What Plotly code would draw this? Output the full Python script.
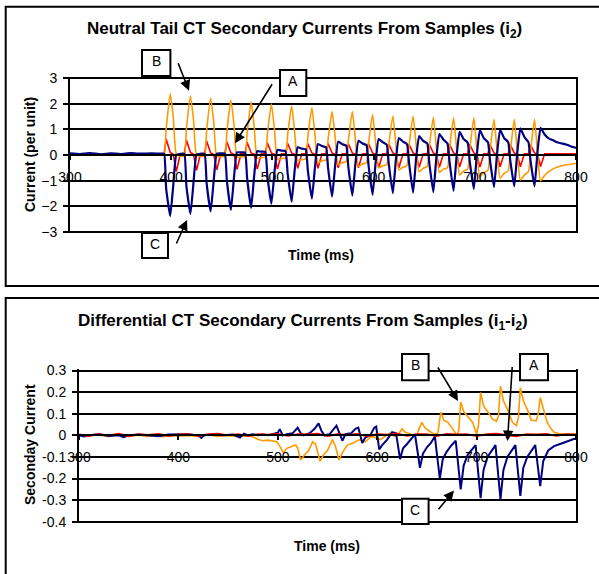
import plotly.graph_objects as go

# ---------------- Top chart data (Neutral tail CT secondary currents) ----------------
t_top = [300, 310, 320, 330, 340, 350, 360, 370, 380, 390,
         393, 395, 399, 402, 405, 409,
         413, 415, 419, 422, 425, 429,
         433, 435, 439, 442, 445, 449,
         453, 455, 459, 462, 465, 469,
         473, 475, 479, 482, 485, 489,
         493, 495, 499, 502, 505, 509,
         513, 515, 519, 522, 525, 529,
         533, 535, 539, 542, 545, 549,
         553, 555, 559, 562, 565, 569,
         573, 575, 579, 582, 585, 589,
         593, 595, 599, 602, 605, 609,
         613, 615, 619, 622, 625, 629,
         633, 635, 639, 642, 645, 649,
         653, 655, 659, 662, 665, 669,
         673, 675, 679, 682, 685, 689,
         693, 695, 699, 702, 705, 709,
         713, 715, 719, 722, 725, 729,
         733, 735, 739, 742, 745, 749,
         753, 755, 759, 762, 765, 769,
         773, 777, 781, 786, 791, 796, 800]

top_B_orange = [0.02, 0.0, 0.03, 0.0, 0.02, 0.0, 0.03, 0.01, 0.02, 0.0,
                0.0, 1.0, 2.38, 1.5, 0.05, -0.05,
                -0.03, 1.0, 2.30, 1.4, 0.0, -0.05,
                -0.04, 0.95, 2.21, 1.3, -0.05, -0.06,
                -0.05, 0.9, 2.14, 1.2, -0.08, -0.07,
                -0.06, 0.85, 2.06, 1.1, -0.12, -0.1,
                -0.08, 0.8, 1.99, 1.0, -0.18, -0.14,
                -0.12, 0.75, 1.91, 0.9, -0.22, -0.18,
                -0.15, 0.7, 1.84, 0.8, -0.3, -0.22,
                -0.2, 0.6, 1.69, 0.7, -0.38, -0.3,
                -0.25, 0.55, 1.69, 0.6, -0.45, -0.35,
                -0.3, 0.45, 1.58, 0.5, -0.5, -0.42,
                -0.38, 0.4, 1.52, 0.45, -0.58, -0.48,
                -0.42, 0.35, 1.52, 0.4, -0.65, -0.52,
                -0.45, 0.3, 1.47, 0.3, -0.68, -0.55,
                -0.5, 0.25, 1.45, 0.25, -0.78, -0.62,
                -0.55, 0.2, 1.45, 0.2, -0.85, -0.68,
                -0.6, 0.15, 1.39, 0.15, -0.9, -0.72,
                -0.62, 0.1, 1.39, 0.1, -0.97, -0.78,
                -0.65, 0.1, 1.39, 0.05, -1.0, -0.8,
                -0.65, -0.55, -0.48, -0.42, -0.38, -0.35, -0.33]

top_C_blue = [0.06, 0.04, 0.07, 0.03, 0.06, 0.04, 0.07, 0.05, 0.06, 0.05,
              0.05, -1.3, -2.38, -1.2, 0.0, 0.05,
              0.05, -1.2, -2.30, -1.1, 0.02, 0.05,
              0.05, -1.1, -2.20, -1.0, 0.05, 0.06,
              0.06, -1.0, -2.14, -0.9, 0.1, 0.1,
              0.1, -0.9, -2.06, -0.8, 0.15, 0.13,
              0.12, -0.8, -1.90, -0.7, 0.2, 0.17,
              0.15, -0.7, -1.82, -0.6, 0.3, 0.25,
              0.22, -0.6, -1.70, -0.5, 0.43, 0.35,
              0.3, -0.5, -1.62, -0.4, 0.52, 0.42,
              0.36, -0.45, -1.58, -0.35, 0.55, 0.45,
              0.38, -0.4, -1.55, -0.3, 0.62, 0.5,
              0.4, -0.35, -1.49, -0.2, 0.66, 0.52,
              0.42, -0.3, -1.47, -0.15, 0.74, 0.55,
              0.45, -0.3, -1.45, -0.1, 0.82, 0.6,
              0.45, -0.25, -1.40, -0.05, 0.9, 0.62,
              0.48, -0.25, -1.32, 0.0, 0.97, 0.65,
              0.5, -0.2, -1.25, 0.05, 0.98, 0.66,
              0.5, -0.2, -1.22, 0.1, 1.04, 0.7,
              0.5, -0.2, -1.22, 0.15, 1.06, 0.8,
              0.65, 0.58, 0.5, 0.45, 0.4, 0.32, 0.28]

top_A_red = [0.03, 0.02, 0.03, 0.03, 0.02, 0.03, 0.03, 0.02, 0.03, 0.03,
             0.05, 0.62, 0.1, 0.03, -0.65, 0.05,
             0.05, 0.58, 0.1, 0.03, -0.6, 0.05,
             0.05, 0.55, 0.08, 0.03, -0.58, 0.05,
             0.05, 0.52, 0.08, 0.03, -0.56, 0.05,
             0.05, 0.5, 0.08, 0.03, -0.55, 0.05,
             0.05, 0.48, 0.08, 0.03, -0.55, 0.05,
             0.05, 0.46, 0.08, 0.03, -0.52, 0.05,
             0.05, 0.45, 0.08, 0.03, -0.52, 0.05,
             0.05, 0.45, 0.08, 0.03, -0.5, 0.05,
             0.05, 0.44, 0.08, 0.03, -0.5, 0.05,
             0.05, 0.44, 0.08, 0.03, -0.5, 0.05,
             0.05, 0.43, 0.08, 0.03, -0.5, 0.05,
             0.05, 0.42, 0.08, 0.03, -0.48, 0.05,
             0.05, 0.42, 0.08, 0.03, -0.48, 0.05,
             0.05, 0.42, 0.08, 0.03, -0.47, 0.05,
             0.05, 0.42, 0.08, 0.03, -0.47, 0.05,
             0.05, 0.4, 0.08, 0.03, -0.46, 0.05,
             0.05, 0.4, 0.08, 0.03, -0.46, 0.05,
             0.05, 0.4, 0.08, 0.03, -0.45, 0.05,
             0.05, 0.05, 0.05, 0.05, 0.05, 0.05, 0.05]

# ---------------- Bottom chart data (Differential CT secondary currents) ----------------
t_bot_blue = [300, 305, 310, 320, 330, 340, 345, 350, 360, 370, 380, 390, 400, 410, 420, 423, 426,
              435, 445, 455, 462, 466, 470, 475, 480, 485, 490, 495,
              500, 502, 505, 510, 515, 520, 523, 526, 532, 537, 541, 544, 547, 552, 556, 559,
              562, 565, 568, 574, 578, 581, 585, 588, 593, 597, 599, 602, 605, 610, 615, 619,
              623, 626, 630, 634, 638,
              643, 646, 650, 654, 658,
              663, 666, 670, 674, 679,
              684, 687, 691, 695, 699,
              704, 707, 711, 715, 719,
              724, 727, 731, 735, 739,
              744, 747, 751, 755, 759,
              764, 767, 772, 778, 784, 789, 793, 797, 800]
bot_C_blue = [0.0, -0.005, 0.0, 0.005, -0.003, 0.0, -0.008, 0.0, 0.004, 0.0, -0.004, 0.004, 0.005, 0.005, 0.0, -0.012, 0.0,
              0.004, 0.0, 0.004, -0.01, 0.008, 0.0, 0.005, 0.0, 0.004, 0.0, 0.005,
              0.012, 0.028, 0.0, 0.006, 0.01, 0.035, 0.01, 0.0, 0.01, 0.03, 0.055, 0.02, 0.0, 0.005, 0.03, 0.045,
              0.01, -0.025, 0.005, 0.01, 0.03, 0.036, -0.035, -0.01, 0.0, 0.035, 0.04, -0.065, -0.045, -0.02, 0.015, 0.01,
              -0.11, -0.06, -0.04, -0.02, 0.005,
              -0.15, -0.085, -0.055, -0.035, -0.005,
              -0.2, -0.11, -0.075, -0.05, -0.025,
              -0.25, -0.14, -0.09, -0.065, -0.045,
              -0.29, -0.16, -0.1, -0.07, -0.045,
              -0.296, -0.16, -0.1, -0.07, -0.045,
              -0.28, -0.15, -0.1, -0.07, -0.045,
              -0.235, -0.12, -0.07, -0.05, -0.04, -0.03, -0.025, -0.018, -0.015]

t_bot_orange = [300, 308, 315, 322, 330, 338, 345, 352, 360, 368, 376, 384, 392, 400, 410, 420, 430, 440, 450, 460,
                468, 474, 480, 485, 490, 495, 499, 502, 505.5, 509, 514, 518, 520, 523, 527, 531, 535, 538,
                542.5, 546, 550, 555, 558, 561.5, 565, 570, 576, 582, 588, 594, 598, 603, 608, 613, 618,
                622, 625, 628, 634, 640, 642, 645, 648, 653, 657, 661, 664, 667, 671, 676, 680,
                682, 684, 687, 691, 696, 700, 702, 704, 707, 711, 716, 720, 722, 724, 727, 731, 736, 740,
                742, 744, 747, 751, 755, 760, 762, 764, 767, 771, 775, 778, 783, 790, 800]
bot_B_orange = [0.0, -0.005, 0.005, 0.0, -0.006, 0.003, 0.0, -0.004, 0.002, -0.005, 0.0, -0.006, 0.0, -0.004, 0.0, -0.005, 0.002, -0.005, 0.0, -0.006,
                -0.003, -0.005, -0.018, -0.025, -0.022, -0.025, -0.03, -0.05, -0.08, -0.06, -0.05, -0.045, -0.06, -0.114, -0.09, -0.07, -0.03, -0.04,
                -0.12, -0.09, -0.07, -0.02, -0.05, -0.114, -0.08, -0.045, -0.035, -0.02, -0.03, -0.005, -0.01, -0.02, -0.005, 0.01, -0.005,
                0.01, 0.03, 0.015, 0.005, 0.0, 0.03, 0.06, 0.035, 0.02, 0.005, 0.01, 0.108, 0.07, 0.06, 0.03, 0.0,
                0.02, 0.154, 0.11, 0.09, 0.06, 0.005, 0.05, 0.198, 0.136, 0.11, 0.075, 0.065, 0.09, 0.228, 0.16, 0.12, 0.06, 0.045,
                0.08, 0.22, 0.16, 0.12, 0.07, 0.068, 0.1, 0.175, 0.12, 0.06, 0.03, 0.014, 0.008, 0.005, 0.005]

t_bot_red = [300, 310, 320, 330, 340, 350, 360, 370, 380, 390, 400, 410, 420, 430, 440, 450, 460, 470, 480, 490,
             500, 510, 520, 530, 540, 550, 560, 570, 580, 590, 600, 610, 620, 630, 640, 650, 660, 670, 680, 690,
             700, 710, 720, 730, 740, 750, 760, 770, 780, 790, 800]
bot_A_red = [0.005, -0.003, 0.006, 0.0, 0.008, -0.004, 0.005, 0.002, 0.007, -0.003, 0.004, 0.006, -0.002, 0.005, 0.008, 0.0, 0.006, -0.004, 0.005, 0.003,
             0.007, -0.002, 0.006, 0.004, 0.008, -0.003, 0.005, 0.002, 0.007, -0.004, 0.006, 0.003, 0.008, -0.002, 0.005, 0.006, -0.003, 0.007, 0.004, 0.006,
             -0.004, 0.005, 0.008, 0.002, -0.005, 0.006, 0.004, 0.007, -0.002, 0.005, 0.004]

x_ticks = [300, 400, 500, 600, 700, 800]
top_y_ticks = [-3, -2, -1, 0, 1, 2, 3]
bot_y_ticks = [-0.4, -0.3, -0.2, -0.1, 0, 0.1, 0.2, 0.3]
bot_y_text = ["-0.4", "-0.3", "-0.2", "-0.1", "0", "0.1", "0.2", "0.3"]

assert len(t_top) == len(top_B_orange) == len(top_C_blue) == len(top_A_red)
assert len(t_bot_blue) == len(bot_C_blue)
assert len(t_bot_orange) == len(bot_B_orange)
assert len(t_bot_red) == len(bot_A_red)

ORANGE = "#FF9900"
BLUE = "#000080"
RED = "#FF0000"
FONT = "Liberation Sans, Arial, sans-serif"
W, H = 599, 574


def px(x):
    return x / W


def py(y):
    return 1 - y / H


fig = go.Figure()
fig.add_trace(go.Scatter(x=t_top, y=top_A_red, mode="lines", line=dict(color=RED, width=1.6), xaxis="x", yaxis="y"))
fig.add_trace(go.Scatter(x=t_top, y=top_B_orange, mode="lines", line=dict(color=ORANGE, width=1.6, shape="spline", smoothing=0.5), xaxis="x", yaxis="y"))
fig.add_trace(go.Scatter(x=t_top, y=top_C_blue, mode="lines", line=dict(color=BLUE, width=2.2, shape="spline", smoothing=0.4), xaxis="x", yaxis="y"))

fig.add_trace(go.Scatter(x=t_bot_orange, y=bot_B_orange, mode="lines", line=dict(color=ORANGE, width=1.6), xaxis="x2", yaxis="y2"))
fig.add_trace(go.Scatter(x=t_bot_blue, y=bot_C_blue, mode="lines", line=dict(color=BLUE, width=2.0), xaxis="x2", yaxis="y2"))
fig.add_trace(go.Scatter(x=t_bot_red, y=bot_A_red, mode="lines", line=dict(color=RED, width=1.8), xaxis="x2", yaxis="y2"))

# pixel layout of the two plot areas
TOP_Y3, TOP_YM3 = 78, 232
BOT_Y03, BOT_YM04 = 370.5, 521.8
pad_top = 0.05
pad_bot = 0.006
u_top = (TOP_YM3 - TOP_Y3) / 6.0
u_bot = (BOT_YM04 - BOT_Y03) / 0.7
top_dom_y = [py(TOP_YM3 + pad_top * u_top), py(TOP_Y3 - pad_top * u_top)]
bot_dom_y = [py(BOT_YM04 + pad_bot * u_bot), py(BOT_Y03 - pad_bot * u_bot)]
top_zero = py(TOP_Y3 + 3 * u_top)
bot_zero = py(BOT_Y03 + 0.3 * u_bot)

common_x = dict(range=[300, 800], tickvals=x_ticks, showgrid=False, zeroline=False,
                showline=True, linecolor="black", linewidth=2, ticks="outside", ticklen=4,
                tickwidth=2, tickcolor="black", tickfont=dict(family=FONT, size=14, color="black"),
                anchor="free", ticklabelstandoff=5)
common_y = dict(showgrid=True, gridcolor="black", gridwidth=2, zeroline=False, showline=True,
                mirror=True, linecolor="black", linewidth=2, ticks="outside", ticklen=5,
                tickwidth=2, tickcolor="black", tickfont=dict(family=FONT, size=14, color="black"),
                ticklabelstandoff=3)

fig.update_layout(
    width=W, height=H, margin=dict(l=0, r=0, t=0, b=0, autoexpand=False),
    paper_bgcolor="white", plot_bgcolor="white", showlegend=False,
    xaxis=dict(domain=[px(70), px(576)], position=top_zero, **common_x),
    yaxis=dict(domain=top_dom_y, range=[-3 - pad_top, 3 + pad_top], tickvals=top_y_ticks, anchor="x", **common_y),
    xaxis2=dict(domain=[px(79), px(576)], position=bot_zero, **common_x),
    yaxis2=dict(domain=bot_dom_y, range=[-0.4 - pad_bot, 0.3 + pad_bot], tickvals=bot_y_ticks,
                ticktext=bot_y_text, anchor="x2", **common_y),
)

shapes = []
# outer frames
shapes.append(dict(type="rect", xref="paper", yref="paper", x0=px(5.7), x1=px(610), y0=py(286), y1=py(6.7),
                   line=dict(color="black", width=2), fillcolor="rgba(0,0,0,0)", layer="above"))
shapes.append(dict(type="rect", xref="paper", yref="paper", x0=px(5.7), x1=px(610), y0=py(590), y1=py(298),
                   line=dict(color="black", width=2), fillcolor="rgba(0,0,0,0)", layer="above"))

label_boxes = [
    ("B", 142, 170.4, 50, 76),
    ("A", 280, 306.3, 70, 96),
    ("C", 142, 168, 233, 258),
    ("B", 402, 428.6, 354, 380.3),
    ("A", 520, 548, 354, 380.3),
    ("C", 402, 428.6, 498.7, 524),
]
annotations = []
for txt, x0, x1, y0, y1 in label_boxes:
    shapes.append(dict(type="rect", xref="paper", yref="paper", x0=px(x0), x1=px(x1), y0=py(y1), y1=py(y0),
                       line=dict(color="black", width=2), fillcolor="white", layer="above"))
    annotations.append(dict(xref="paper", yref="paper", x=px((x0 + x1) / 2), y=py(y0 + 1), text=txt,
                            showarrow=False, xanchor="center", yanchor="top",
                            font=dict(family=FONT, size=14, color="black")))

arrows = [
    (177.6, 61.7, 189, 90.7),
    (273, 82.7, 235, 143.3),
    (175.7, 245, 187, 220),
    (437, 366, 458, 401),
    (512.3, 365.5, 507.5, 441),
    (437.3, 510.7, 454, 490.5),
]
for tx, ty, hx, hy in arrows:
    annotations.append(dict(xref="paper", yref="paper", x=px(hx), y=py(hy), ax=tx - hx, ay=ty - hy,
                            axref="pixel", ayref="pixel", text="", showarrow=True,
                            arrowhead=2, arrowsize=1.3, arrowwidth=1.6, arrowcolor="black"))

# titles
annotations += [
    dict(xref="paper", yref="paper", x=px(304), y=py(30), xanchor="center", yanchor="middle",
         text="<b>Neutral Tail CT Secondary Currents From Samples (i<sub>2</sub>)</b>",
         showarrow=False, font=dict(family=FONT, size=17, color="black")),
    dict(xref="paper", yref="paper", x=px(30), y=py(155), xanchor="center", yanchor="middle",
         text="<b>Current (per unit)</b>", textangle=-90,
         showarrow=False, font=dict(family=FONT, size=14, color="black")),
    dict(xref="paper", yref="paper", x=px(321), y=py(255), xanchor="center", yanchor="middle",
         text="<b>Time (ms)</b>",
         showarrow=False, font=dict(family=FONT, size=14, color="black")),
    dict(xref="paper", yref="paper", x=px(303), y=py(322), xanchor="center", yanchor="middle",
         text="<b>Differential CT Secondary Currents From Samples (i<sub>1</sub>-i<sub>2</sub>)</b>",
         showarrow=False, font=dict(family=FONT, size=17, color="black")),
    dict(xref="paper", yref="paper", x=px(30), y=py(445), xanchor="center", yanchor="middle",
         text="<b>Seconday Current</b>", textangle=-90,
         showarrow=False, font=dict(family=FONT, size=14, color="black")),
    dict(xref="paper", yref="paper", x=px(327), y=py(546), xanchor="center", yanchor="middle",
         text="<b>Time (ms)</b>",
         showarrow=False, font=dict(family=FONT, size=14, color="black")),
]

fig.update_layout(shapes=shapes, annotations=annotations)
fig.write_html("out.html", config={"displayModeBar": False},
               post_script="document.body.style.margin='0';document.body.style.overflow='hidden';")
